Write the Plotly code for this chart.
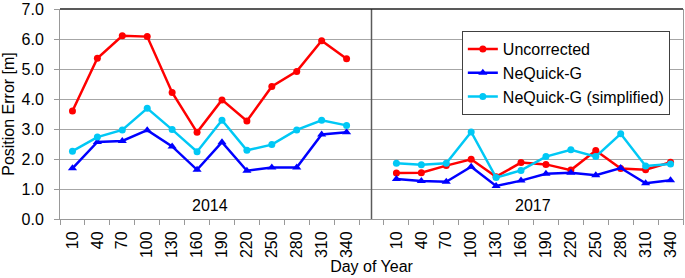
import plotly.graph_objects as go

days = [10, 40, 70, 100, 130, 160, 190, 220, 250, 280, 310, 340]
years = ["2014", "2017"]

uncorrected_2014 = [3.60, 5.36, 6.11, 6.08, 4.22, 2.89, 3.97, 3.27, 4.42, 4.92, 5.94, 5.34]
nequick_2014 = [1.69, 2.57, 2.60, 2.96, 2.42, 1.64, 2.56, 1.61, 1.72, 1.72, 2.82, 2.89]
simplified_2014 = [2.26, 2.73, 2.97, 3.69, 2.98, 2.24, 3.29, 2.29, 2.48, 2.97, 3.29, 3.12]

uncorrected_2017 = [1.53, 1.54, 1.78, 1.99, 1.41, 1.88, 1.82, 1.63, 2.28, 1.68, 1.64, 1.89]
nequick_2017 = [1.33, 1.27, 1.24, 1.74, 1.10, 1.28, 1.51, 1.54, 1.46, 1.70, 1.19, 1.29]
simplified_2017 = [1.86, 1.81, 1.86, 2.90, 1.38, 1.62, 2.08, 2.31, 2.08, 2.84, 1.77, 1.83]

series = [
    ("Uncorrected", uncorrected_2014, uncorrected_2017, "#FF0000", "circle", 7),
    ("NeQuick-G", nequick_2014, nequick_2017, "#0000FF", "triangle-up", 8),
    ("NeQuick-G (simplified)", simplified_2014, simplified_2017, "#00C8F5", "circle", 7),
]

n = len(days)
x_2014 = list(range(n))
x_2017 = [i + n + 1 for i in range(n)]
gap_pos = n

FONT = "Liberation Sans, Arial, sans-serif"

fig = go.Figure()
for name, v14, v17, color, sym, msize in series:
    for k, (xs, vs) in enumerate([(x_2014, v14), (x_2017, v17)]):
        fig.add_trace(go.Scatter(
            x=xs, y=vs, mode="lines+markers", name=name,
            legendgroup=name, showlegend=(k == 0),
            line=dict(color=color, width=2.5),
            marker=dict(color=color, symbol=sym, size=msize),
        ))

# panel divider
fig.add_shape(type="line", xref="x", yref="y", x0=gap_pos, x1=gap_pos, y0=0, y1=7,
              line=dict(color="#5a5a5a", width=1.5), layer="above")
# top border
fig.add_shape(type="line", xref="paper", yref="paper", x0=0, x1=1, y0=1, y1=1,
              line=dict(color="#222222", width=1.5), layer="above")

for xs, label in [(x_2014, years[0]), (x_2017, years[1])]:
    fig.add_annotation(x=(xs[0] + xs[-1]) / 2, y=0.45, text=label, showarrow=False,
                       font=dict(family=FONT, size=16, color="#000000"))

fig.update_layout(
    width=685, height=278,
    margin=dict(l=60, r=2, t=9, b=59, autoexpand=False),
    paper_bgcolor="white", plot_bgcolor="white",
    font=dict(family=FONT, size=16, color="#000000"),
    showlegend=True,
    legend=dict(x=0.645, y=0.895, xanchor="left", yanchor="top",
                bgcolor="white", bordercolor="#404040", borderwidth=1,
                font=dict(family=FONT, size=16), itemwidth=30,
                tracegroupgap=0),
)

fig.update_xaxes(
    automargin=False,
    range=[-0.5, 2 * n + 0.5],
    tickmode="array",
    tickvals=x_2014 + x_2017,
    ticktext=[str(d) for d in days] * 2,
    tickangle=-90,
    ticks="", ticklen=0,
    ticklabelstandoff=5,
    tickfont=dict(family=FONT, size=16),
    minor=dict(tick0=0.5, dtick=1, ticks="outside", ticklen=5, tickcolor="#999999", showgrid=False),
    showgrid=False, zeroline=False,
    showline=True, linecolor="#999999", linewidth=1,
    title=dict(text="Day of Year", font=dict(family=FONT, size=16), standoff=0),
)
fig.update_yaxes(
    automargin=False,
    range=[0, 7], dtick=1, tickformat=".1f",
    ticks="outside", ticklen=5, tickcolor="#999999",
    tickfont=dict(family=FONT, size=16),
    ticklabelstandoff=7,
    showgrid=True, gridcolor="#A6A6A6", gridwidth=1,
    zeroline=False,
    showline=True, linecolor="#999999", linewidth=1, mirror=True,
    title=dict(text="Position Error [m]", font=dict(family=FONT, size=16), standoff=2),
)

# remove the browser's default 8px page margin so the figure fills the window exactly
fig.write_html("out.html", config={"displayModeBar": False},
               post_script="document.body.style.margin='0';")
